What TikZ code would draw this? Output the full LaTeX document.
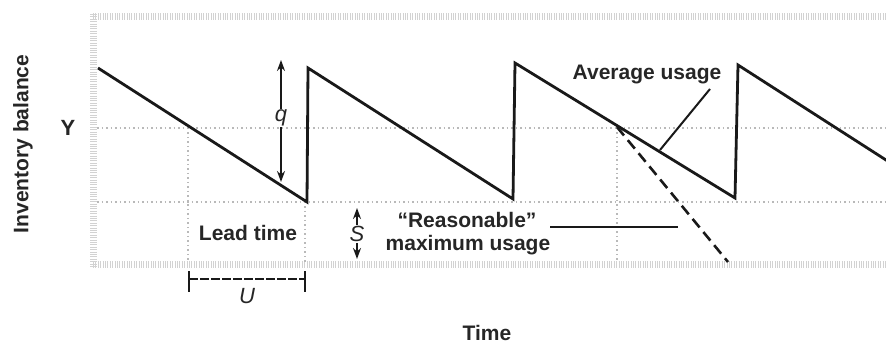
\documentclass[tikz,border=0pt]{standalone}
\usepackage{fontspec}
\setmainfont{Liberation Sans}
\usetikzlibrary{arrows.meta}
\begin{document}
\begin{tikzpicture}[x=1pt,y=-1pt,
  lbl/.style={font=\fontsize{21}{23}\selectfont\bfseries, text=black!85, inner sep=0pt},
  sym/.style={font=\fontsize{22}{24}\selectfont\itshape, text=black!85, inner sep=1pt},
  band/.style={draw=gray!35, line width=7pt, dash pattern=on 1pt off 1.4pt},
  grid/.style={draw=gray!55, line width=1.1pt, dash pattern=on 1.5pt off 3pt},
  saw/.style={draw=black!90, line width=2.8pt, line join=miter},
  dim/.style={draw=black!90, line width=1.7pt, -{Stealth[length=11pt,width=8pt]}},
  leader/.style={draw=black!90, line width=2pt}]
\useasboundingbox (0,0) rectangle (886,344);
\begin{scope}
\clip (0,0) rectangle (886,344);
% frame bands and reference levels
\draw[band] (93,17) -- (886,17);
\draw[band] (93,265) -- (886,265);
\draw[band] (93,14) -- (93,268);
\draw[grid] (97,128) -- (886,128);
\draw[grid] (97,202) -- (886,202);
\draw[grid] (188,128) -- (188,262);
\draw[grid] (305,202) -- (305,262);
\draw[grid] (617,128) -- (617,262);
% inventory sawtooth
\coordinate (s0) at (98,68);
\coordinate (b1) at (307,202);
\coordinate (t1) at (308,68);
\coordinate (b2) at (513,199);
\coordinate (t2) at (515,63);
\coordinate (cross) at (617,127);
\coordinate (b3) at (735,198);
\coordinate (t3) at (738,65);
\coordinate (s4) at (900,169);
\draw[saw] (s0) -- (b1) -- (t1) -- (b2) -- (t2) -- (b3) -- (t3) -- (s4);
% maximum usage line
\coordinate (maxend) at (728,262);
\draw[draw=black!90, line width=2.6pt, dash pattern=on 11pt off 6pt] (cross) -- (maxend);
\end{scope}
% order quantity q
\coordinate (qtop) at (281,60);
\coordinate (qbot) at (281,182);
\node[sym, fill=white] (q) at (281,118) {q};
\draw[dim] (q.north) -- (qtop);
\draw[dim] (q.south) -- (qbot);
% safety stock S
\coordinate (stop) at (357,208);
\coordinate (sbot) at (357,259);
\node[sym] (S) at (357,234) {S};
\draw[dim] (S.north) -- (stop);
\draw[dim] (S.south) -- (sbot);
% lead time U
\coordinate (ul) at (189,279);
\coordinate (ur) at (305,279);
\draw[line width=1.8pt, black!90] ([yshift=-13pt]ul) -- ([yshift=8pt]ul);
\draw[line width=1.8pt, black!90] ([yshift=-13pt]ur) -- ([yshift=8pt]ur);
\draw[line width=1.8pt, black!90, dash pattern=on 9pt off 2pt] (ul) -- (ur);
\node[sym] (U) at (247,296) {U};
% labels
\node[lbl] (lead) at (248,233) {Lead time};
\node[lbl] (reas) at (467,220) {``Reasonable''};
\node[lbl] (maxu) at (468,245) {maximum usage};
\coordinate (rl) at (550,227);
\coordinate (rr) at (678,227);
\draw[leader] (rl) -- (rr);
\node[lbl] (avg) at (647,75) {Average usage};
\coordinate (avgtip) at (710,89);
\coordinate (avgpt) at (660,150);
\draw[leader] (avgtip) -- (avgpt);
\node[lbl] (time) at (487,333) {Time};
\node[lbl, rotate=90] (inv) at (23,144) {Inventory balance};
\node[lbl, font=\fontsize{22}{24}\selectfont\bfseries] (Y) at (68,128) {Y};
\end{tikzpicture}
\end{document}
